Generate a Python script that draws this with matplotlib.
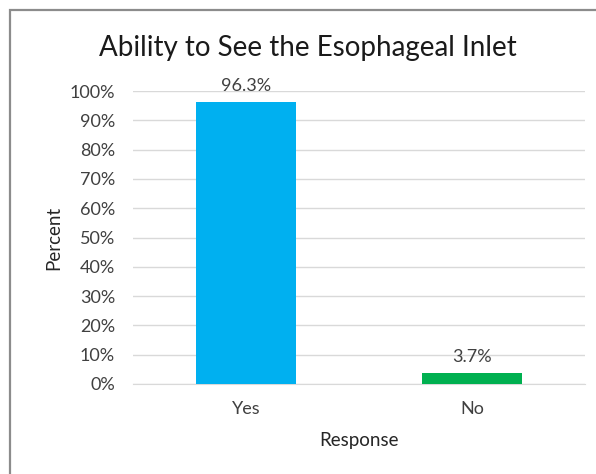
import matplotlib.pyplot as plt
from matplotlib.patches import Rectangle
from matplotlib.ticker import FuncFormatter

categories = ['Yes', 'No']
percents = [96.3, 3.7]
bar_colors = ['#00B0F0', '#00B050']
y_ticks = list(range(0, 101, 10))

plt.rcParams['font.family'] = ['Lato', 'DejaVu Sans']

fig = plt.figure(figsize=(5.96, 4.74), dpi=100)
ax = fig.add_axes([133 / 596, 1 - 384 / 474, 452 / 596, 293 / 474])

# outer chart border (only top and left visible in the reference)
fig.patches.append(Rectangle((10 / 596, -0.1), 1.2, 1 - 10 / 474 + 0.1,
                             transform=fig.transFigure, fill=False,
                             edgecolor='#8c8c8c', linewidth=1.6))

x = range(len(categories))
bars = ax.bar(x, percents, width=0.44, color=bar_colors, zorder=3)

for bar, val in zip(bars, percents):
    ax.annotate(f'{val}%', (bar.get_x() + bar.get_width() / 2, bar.get_height()),
                xytext=(0, 6), textcoords='offset points', ha='center', va='bottom',
                fontsize=13, color='#404040')

ax.set_xlim(-0.5, 1.5)
ax.set_ylim(0, 100)
ax.set_xticks(list(x))
ax.set_xticklabels(categories)
ax.set_yticks(y_ticks)
ax.yaxis.set_major_formatter(FuncFormatter(lambda v, p: f'{v:.0f}%'))
ax.tick_params(length=0, labelsize=13, labelcolor='#404040')
ax.tick_params(axis='x', pad=12)
ax.tick_params(axis='y', pad=13)
ax.grid(axis='y', color='#d9d9d9', linewidth=1, zorder=0)
for s in ['top', 'right', 'left']:
    ax.spines[s].set_visible(False)
ax.spines['bottom'].set_color('#d9d9d9')

fig.text(308 / 596, 1 - 48 / 474, 'Ability to See the Esophageal Inlet',
         fontsize=20, color='#1a1a1a', ha='center', va='center')
ax.set_xlabel('Response', fontsize=13.5, color='#262626', labelpad=11)
ax.set_ylabel('Percent', fontsize=13.5, color='#262626', labelpad=5)

plt.savefig('out.png')
